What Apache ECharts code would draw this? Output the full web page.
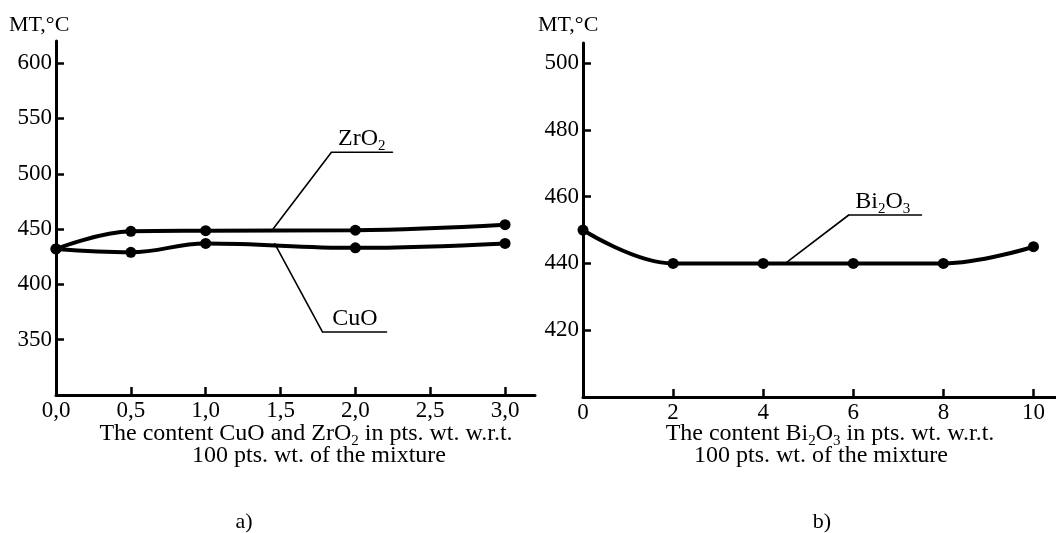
<!DOCTYPE html>
<html>
<head>
<meta charset="utf-8">
<title>MT vs additive content</title>
<script src="https://cdn.jsdelivr.net/npm/echarts@6/dist/echarts.min.js"></script>
<style>
  html, body { margin: 0; padding: 0; background: #fff; }
  #chart { width: 1056px; height: 533px; }
</style>
</head>
<body>
<div id="chart"></div>
<script>
// panel a) CuO and ZrO2
const xA = [0, 0.5, 1.0, 2.0, 3.0]
const zro2 = [432, 448, 448.5, 449, 454]
const cuo = [432, 429, 437, 433, 437]
const xTicksA = [0, 0.5, 1.0, 1.5, 2.0, 2.5, 3.0]
const yTicksA = [350, 400, 450, 500, 550, 600]

// panel b) Bi2O3
const xB = [0, 2, 4, 6, 8, 10]
const bi2o3 = [450, 440, 440, 440, 440, 445]
const xTicksB = [0, 2, 4, 6, 8, 10]
const yTicksB = [420, 440, 460, 480, 500]

// leader lines for the curve labels (data coords)
const zrLeaderX = [1.45, 1.84, 2.25]
const zrLeaderY = [450, 519.5, 519.5]
const cuLeaderX = [1.46, 1.78, 2.21]
const cuLeaderY = [437, 357, 357]
const biLeaderX = [4.49, 5.9, 7.52]
const biLeaderY = [440, 454.5, 454.5]

const font = "'Liberation Serif', 'Times New Roman', serif"
const ink = '#000'

const pairs = (xs, ys) => xs.map((x, i) => [x, ys[i]])

const rich = {
  n: { fontSize: 24, fontFamily: font, color: ink, lineHeight: 24 },
  s: { fontSize: 15, fontFamily: font, color: ink, lineHeight: 24, verticalAlign: 'bottom', padding: [0, 0, -3, 0] }
}

function valueAxis(grid, min, max, ticks, fmt) {
  return {
    type: 'value',
    gridIndex: grid,
    min: min,
    max: max,
    axisLine: { show: true, lineStyle: { color: ink, width: 3 } },
    axisTick: { show: true, inside: true, length: 8, customValues: ticks, lineStyle: { color: ink, width: 2.5 } },
    axisLabel: { customValues: ticks, formatter: fmt, color: ink, fontSize: 23, fontFamily: font, margin: 4 },
    splitLine: { show: false }
  }
}

function curve(name, data, idx) {
  return {
    name: name,
    type: 'line',
    xAxisIndex: idx,
    yAxisIndex: idx,
    data: data,
    smooth: 0.4,
    symbol: 'circle',
    symbolSize: 11,
    itemStyle: { color: ink },
    lineStyle: { color: ink, width: 4 },
    z: 3
  }
}

// thin leader line, label sits over its horizontal end
function leader(data, idx, label, off) {
  let pts = data.map(p => ({ value: p }))
  pts[pts.length - 1].label = {
    show: true,
    position: 'top',
    offset: off,
    distance: 1,
    formatter: label,
    rich: rich
  }
  return {
    type: 'line',
    xAxisIndex: idx,
    yAxisIndex: idx,
    data: pts,
    symbol: 'circle',
    symbolSize: 1,
    itemStyle: { color: ink },
    silent: true,
    lineStyle: { color: ink, width: 1.6 },
    z: 2
  }
}

let chart = echarts.init(document.getElementById('chart'))
chart.setOption({
  animation: false,
  backgroundColor: '#fff',
  grid: [
    { left: 56, top: 41, width: 479, height: 354 },
    { left: 583, top: 43, width: 473, height: 354 }
  ],
  xAxis: [
    valueAxis(0, 0, 3.2, xTicksA, v => v.toFixed(1).replace('.', ',')),
    valueAxis(1, 0, 10.5, xTicksB, v => String(v))
  ],
  yAxis: [
    valueAxis(0, 300, 620, yTicksA, v => String(v)),
    valueAxis(1, 400, 506, yTicksB, v => String(v))
  ],
  series: [
    curve('ZrO2', pairs(xA, zro2), 0),
    curve('CuO', pairs(xA, cuo), 0),
    curve('Bi2O3', pairs(xB, bi2o3), 1),
    leader(pairs(zrLeaderX, zrLeaderY), 0, '{n|ZrO}{s|2}', [-31, 0]),
    leader(pairs(cuLeaderX, cuLeaderY), 0, '{n|CuO}', [-32, 0]),
    leader(pairs(biLeaderX, biLeaderY), 1, '{n|Bi}{s|2}{n|O}{s|3}', [-39, 0])
  ],
  graphic: [
    { type: 'text', left: 9, top: 14, style: { text: 'MT,°C', font: '22px ' + font, fill: ink } },
    { type: 'text', left: 538, top: 14, style: { text: 'MT,°C', font: '22px ' + font, fill: ink } },
    {
      type: 'text', x: 306, y: 434,
      style: { text: '{n|The content CuO and ZrO}{s|2}{n| in pts. wt. w.r.t.}', rich: rich, align: 'center', verticalAlign: 'middle' }
    },
    { type: 'text', x: 319, y: 456, style: { text: '100 pts. wt. of the mixture', font: '24px ' + font, fill: ink, align: 'center', verticalAlign: 'middle' } },
    {
      type: 'text', x: 830, y: 434,
      style: { text: '{n|The content Bi}{s|2}{n|O}{s|3}{n| in pts. wt. w.r.t.}', rich: rich, align: 'center', verticalAlign: 'middle' }
    },
    { type: 'text', x: 821, y: 456, style: { text: '100 pts. wt. of the mixture', font: '24px ' + font, fill: ink, align: 'center', verticalAlign: 'middle' } },
    { type: 'text', x: 244, y: 522, style: { text: 'a)', font: '22px ' + font, fill: ink, align: 'center', verticalAlign: 'middle' } },
    { type: 'text', x: 822, y: 522, style: { text: 'b)', font: '22px ' + font, fill: ink, align: 'center', verticalAlign: 'middle' } }
  ]
})
</script>
</body>
</html>
